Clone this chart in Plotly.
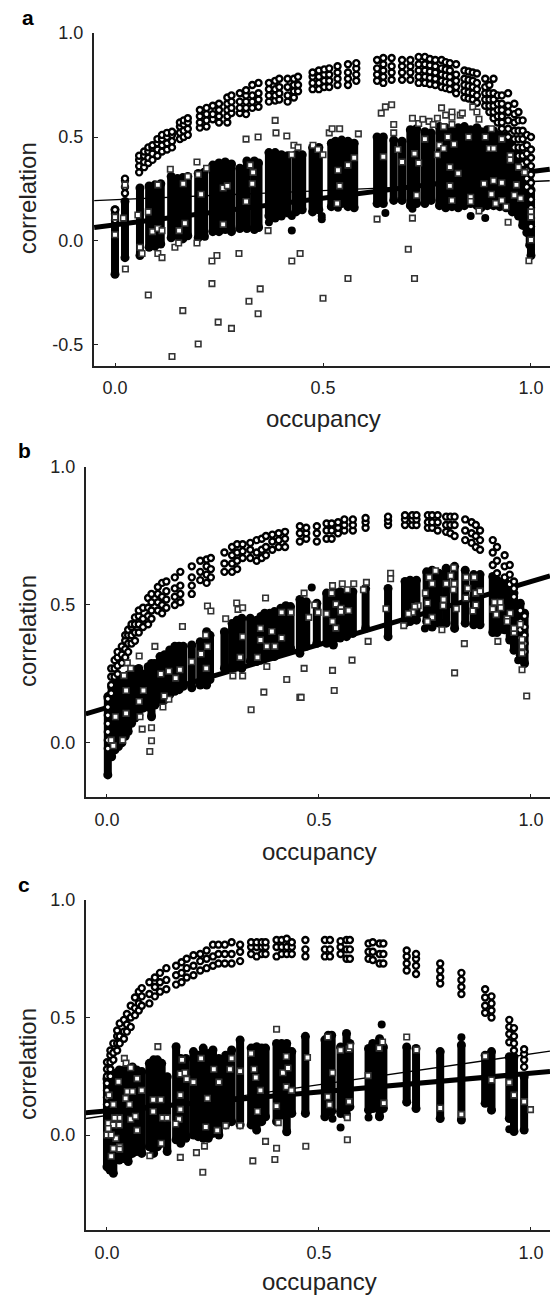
import plotly.graph_objects as go

# ---------- panel a ----------
# occupancy, low, high of each dense filled column
cols_a = [(.00,-.16,.15),(.024,-.08,.19),(.06,-.07,.255),(.082,-.03,.265),(.096,-.025,.27),(.11,-.015,.275),
(.135,.015,.31),(.15,.025,.30),(.163,.01,.305),(.175,.025,.31),(.20,.015,.325),(.214,.025,.33),(.235,.045,.365),
(.25,.045,.375),(.265,.055,.38),(.28,.045,.37),(.30,.06,.35),(.317,.06,.385),(.335,.055,.385),(.345,.065,.375),
(.37,.12,.425),(.385,.11,.425),(.40,.12,.415),(.415,.135,.41),(.435,.14,.415),(.45,.15,.415),(.475,.14,.45),
(.49,.15,.45),(.52,.165,.47),(.53,.175,.48),(.545,.18,.485),(.56,.165,.48),(.575,.16,.47),(.63,.18,.50),
(.645,.18,.50),(.67,.195,.485),(.69,.195,.48),(.71,.17,.535),(.725,.18,.54),(.745,.18,.525),(.76,.195,.52),
(.78,.17,.55),(.795,.16,.545),(.81,.165,.54),(.825,.16,.545),(.84,.17,.55),(.855,.18,.535),(.87,.17,.545),
(.88,.16,.525),(.895,.17,.535),(.91,.17,.53),(.925,.165,.51),(.94,.16,.505),(.955,.14,.485),(.97,.12,.44),
(.98,.075,.39),(.99,.04,.34),(.997,-.02,.29),(1.0,-.07,.245)]
dots_a = [(.216,.02),(.28,.05),(.345,.065),(.37,.09),(.425,.05),(.425,.12),(.497,.105),(.65,.135),(.715,.155),
(.855,.12),(.89,.11),(1.0,.005),(1.0,-.06),(.497,.12),(.536,.16)]
arc_a_x = [.00,.024,.058,.07,.08,.09,.102,.113,.125,.137,.156,.165,.175,.204,.22,.235,.25,.27,.28,.30,.315,.33,.345,.37,.385,.395,.415,.43,.44,
.475,.49,.503,.515,.535,.56,.58,.63,.645,.665,.69,.71,.73,.745,.757,.77,.785,.795,.805,.82,.84,.85,.86,.87,.89,.90,.91,.92,.93,.945,.96,.97,.98,.99,1.0]
arc_a_y = [[.10,.13,.15],[.23,.26,.29,.30],[.33,.36,.39,.41],[.355,.38,.41,.43],[.375,.40,.43,.45],[.39,.42,.45,.46],[.41,.44,.47,.49],[.43,.46,.49,.51],[.44,.47,.50,.52],
[.45,.48,.51,.525],[.49,.52,.55,.57],[.50,.53,.56,.58],[.51,.54,.57,.59],[.545,.57,.60,.63],[.55,.58,.61,.64],[.585,.61,.65],[.57,.60,.63,.66],
[.57,.60,.63,.66,.69],[.615,.64,.67,.70],[.615,.64,.67,.71],[.61,.64,.67,.70,.725],[.64,.67,.70,.75],[.645,.68,.71,.76],
[.67,.70,.73,.76],[.675,.70,.73,.77],[.68,.71,.74,.78],[.67,.70,.74,.78],[.69,.72,.75,.78],[.72,.75,.79],[.73,.76,.79,.81],[.73,.76,.79,.82],[.74,.77,.80,.825],
[.74,.77,.80,.83],[.75,.78,.81,.84],[.75,.78,.81,.85],[.77,.80,.83,.855],[.77,.80,.83,.87],[.76,.79,.82,.85,.88],
[.775,.81,.84,.88],[.775,.81,.84,.87],[.775,.81,.84,.87],[.76,.79,.82,.85,.885],[.76,.79,.82,.85,.885],[.755,.785,.815,.845,.875],[.75,.78,.81,.84,.87],
[.74,.77,.80,.83,.87],[.735,.765,.795,.825,.86],[.73,.76,.79,.82,.855],[.71,.74,.77,.80,.85],[.69,.72,.75,.78,.82],[.685,.715,.745,.775,.815],[.68,.71,.74,.77,.81],
[.665,.70,.73,.76,.805],[.65,.68,.71,.74,.78],[.62,.65,.68,.71,.75],[.59,.62,.65,.68,.71,.78],[.57,.60,.63,.66,.70],
[.54,.57,.60,.63,.66,.70],[.50,.54,.58,.62,.65,.71],[.45,.49,.53,.57,.61,.66],[.41,.45,.49,.53,.58,.62],
[.33,.37,.41,.45,.49,.53,.58],[.26,.30,.34,.38,.42,.46,.51],[.07,.11,.16,.20,.24,.28,.32,.36,.40,.44,.50]]
squares_a = [(.025,-.135),(0,.115),(0,.03),(.02,.11),(.024,.27),(.065,-.06),(.06,-.03),(.055,.125),(.08,-.26),(.103,-.06),
(.113,-.08),(.08,.14),(.09,.045),(.103,.06),(.113,.05),(.103,.27),(.133,.345),(.163,-.335),(.144,-.03),(.153,-.01),(.197,-.01),
(.168,.085),(.154,.05),(.164,.275),(.175,.31),(.20,.32),(.197,.38),(.22,.35),(.207,.225),(.137,-.555),(.20,-.495),(.248,-.39),
(.28,-.42),(.233,-.205),(.344,-.35),(.322,-.29),(.349,-.23),(.233,-.096),(.245,-.07),(.298,-.06),(.26,.08),(.26,.255),(.27,.265),
(.315,.19),(.33,.275),(.332,.33),(.325,.365),(.368,.05),(.425,-.096),(.445,-.06),(.50,-.275),(.315,.49),(.344,.50),(.387,.52),
(.413,.505),(.43,.46),(.44,.45),(.425,.415),(.476,.46),(.488,.44),(.50,.415),(.515,.52),(.385,.58),(.522,.54),(.54,.54),(.585,.515),
(.536,.34),(.54,.265),(.534,.18),(.56,.365),(.575,.40),(.63,.105),(.705,-.04),(.715,.11),(.72,-.18),(.56,-.18),(.645,.405),(.68,.44),
(.69,.38),(.72,.42),(.73,.375),(.725,.22),(.64,.615),(.65,.645),(.665,.655),(.67,.56),(.67,.52),(.715,.59),(.73,.565),(.74,.585),
(.755,.575),(.765,.56),(.775,.59),(.785,.64),(.795,.605),(.81,.62),(.81,.595),(.79,.55),(.81,.56),(.83,.605),(.835,.615),(.86,.645),
(.87,.62),(.875,.585),(.905,.54),(.89,.50),(.745,.49),(.80,.50),(.78,.46),(.79,.445),(.775,.415),(.815,.465),(.85,.50),(.90,.445),
(.91,.445),(.93,.49),(.805,.355),(.825,.325),(.805,.265),(.887,.275),(.91,.29),(.93,.28),(.905,.225),(.81,.195),(.855,.21),(.855,.19),
(.875,.145),(.915,.18),(.93,.195),(.94,.165),(.945,.09),(.96,.22),(.975,.205),(.97,.355),(.95,.41),(.95,.39),(.995,-.095),(1.0,.005),
(1.0,.14),(1.0,.115),(.985,.33),(.965,.27)]
lines_a = [([-.05,1.045],[.065,.345],5),([-.05,1.045],[.194,.29],1.4)]

# ---------- panel b ----------
cols_b = [(.002,-.116,.168),(.011,-.05,.204),(.019,-.025,.216),(.027,-.013,.222),(.035,0,.228),(.043,.024,.24),(.05,.041,.246),
(.058,.071,.258),(.066,.09,.265),(.075,.10,.27),(.085,.126,.25),(.097,.13,.276),(.105,.095,.288),(.113,.137,.288),(.125,.15,.313),
(.136,.156,.32),(.148,.175,.337),(.16,.187,.35),(.17,.193,.35),(.18,.205,.35),(.20,.20,.355),(.22,.21,.367),(.235,.21,.403),(.243,.23,.39),
(.277,.27,.403),(.295,.276,.433),(.307,.283,.445),(.318,.27,.452),(.338,.295,.452),(.353,.295,.445),(.363,.30,.458),(.372,.307,.47),
(.384,.313,.47),(.395,.313,.476),(.41,.33,.488),(.422,.337,.497),(.433,.343,.494),(.455,.325,.52),(.47,.35,.512),(.495,.361,.506),
(.518,.361,.543),(.534,.355,.548),(.55,.38,.548),(.565,.385,.548),(.58,.397,.548),(.61,.415,.56),(.663,.385,.56),(.703,.434,.585),
(.715,.44,.59),(.73,.445,.59),(.754,.44,.62),(.767,.42,.626),(.783,.434,.615),(.80,.434,.633),(.82,.415,.64),(.845,.434,.626),
(.865,.428,.61),(.88,.428,.61),(.91,.40,.603),(.92,.40,.59),(.938,.41,.59),(.95,.373,.555),(.96,.336,.543),(.975,.318,.506),(.985,.288,.47)]
dots_b = [(.105,.10),(.483,.563),(.75,.415),(.795,.435),(.93,.41),(.97,.30)]
arc_b_x = [.002,.01,.018,.025,.035,.043,.05,.058,.066,.075,.085,.097,.105,.12,.13,.14,.16,.173,.20,.22,.235,.245,.277,.295,.307,.32,.338,.353,
.365,.375,.39,.405,.42,.455,.47,.495,.518,.53,.545,.56,.58,.61,.663,.703,.72,.73,.757,.767,.78,.80,.81,.82,.845,.86,.87,.88,.91,.92,.938,.95,.96,.975,.985]
arc_b_y = [[-.02,.01,.04,.07,.10,.13,.16],[.18,.21,.24,.27],[.24,.27,.30],[.25,.28,.31,.33],[.29,.32,.35],[.31,.34,.37,.39],[.33,.36,.39,.41],
[.36,.39,.42,.43],[.37,.40,.43,.455],[.40,.43,.46,.48],[.42,.45,.49],[.43,.46,.49,.525],[.45,.48,.51,.54],[.48,.51,.54,.565],[.47,.50,.53,.58],
[.49,.52,.55,.585],[.50,.53,.56,.60],[.51,.54,.57,.62],[.54,.57,.60,.64],[.59,.62,.66],[.58,.61,.64,.665],[.60,.63,.67],[.62,.65,.69],[.62,.65,.68,.71],
[.63,.66,.69,.72],[.67,.695,.72],[.67,.70,.725],[.66,.69,.735],[.67,.70,.74],[.68,.71,.75],[.70,.73,.755],[.71,.735,.76],[.71,.74,.765],[.73,.76,.785],[.74,.76,.78],
[.73,.76,.785],[.74,.77,.795],[.74,.77,.795],[.76,.78,.80],[.77,.79,.81],[.77,.79,.81],[.78,.80,.815],[.79,.805,.82],[.79,.81,.825],[.79,.81,.825],[.79,.81,.825],[.78,.80,.825],[.78,.80,.825],
[.77,.80,.825],[.765,.79,.82],[.76,.79,.82],[.75,.79,.82],[.735,.77,.81],[.725,.76,.80],[.71,.75,.79],[.70,.735,.77],[.645,.69,.735],[.615,.66,.71],[.60,.64,.68],
[.575,.61,.645],[.53,.56,.585],[.38,.41,.44,.48],[.33,.36,.39,.42,.46]]
squares_b = [(.101,-.031),(.105,.008),(.105,.055),(.083,.05),(.076,.315),(.113,.35),(.178,.422),(.237,.496),(.245,.478),(.28,.45),(.306,.507),
(.309,.484),(.32,.49),(.374,.525),(.048,.29),(.056,.27),(.04,.244),(.132,.13),(.146,.158),(.135,.17),(.297,.243),(.32,.243),(.377,.277),(.424,.23),
(.37,.184),(.34,.12),(.455,.165),(.045,.19),(.045,.107),(.02,.095),(.037,.01),(.015,-.01),(.01,.01),(.076,.15),(.078,.095),(.086,.19),(.127,.25),
(.146,.26),(.162,.235),(.172,.265),(.20,.294),(.222,.322),(.237,.35),(.233,.39),(.234,.27),(.32,.385),(.314,.31),(.355,.31),(.362,.415),(.362,.373),
(.389,.404),(.377,.35),(.396,.35),(.412,.38),(.412,.473),(.434,.473),(.465,.543),(.458,.165),(.465,.27),(.532,.263),(.536,.19),(.578,.30),(.616,.368),
(.49,.50),(.476,.455),(.498,.473),(.532,.57),(.555,.577),(.582,.577),(.612,.582),(.53,.543),(.567,.555),(.605,.555),(.54,.503),(.552,.488),(.552,.475),
(.57,.48),(.518,.468),(.532,.44),(.54,.416),(.669,.615),(.669,.595),(.658,.486),(.70,.425),(.79,.41),(.843,.36),(.82,.254),(.922,.368),(.979,.265),
(.99,.17),(.775,.624),(.76,.60),(.818,.635),(.811,.606),(.767,.577),(.80,.577),(.819,.577),(.847,.60),(.866,.60),(.751,.543),(.817,.555),(.851,.56),
(.87,.543),(.88,.55),(.794,.52),(.756,.507),(.793,.497),(.847,.525),(.87,.50),(.734,.497),(.726,.494),(.721,.473),(.711,.468),(.824,.486),(.863,.478),
(.767,.455),(.756,.44),(.914,.51),(.928,.51),(.91,.485),(.929,.49),(.918,.465),(.951,.47),(.944,.45),(.944,.44),(.96,.40),(.96,.415),(.979,.375),
(.979,.35),(.979,.325),(.975,.43)]
lines_b = [([-.05,1.045],[.105,.605],5)]

# ---------- panel c ----------
cols_c = [(0,-.135,.24),(.007,-.149,.248),(.015,-.163,.263),(.029,-.106,.277),(.04,-.10,.277),(.05,-.113,.277),(.06,-.078,.29),(.07,-.07,.277),
(.082,-.078,.27),(.10,-.05,.305),(.11,-.078,.32),(.119,-.05,.32),(.129,-.035,.305),(.142,-.07,.248),(.163,-.02,.376),(.174,-.035,.326),(.186,-.014,.326),
(.204,0,.355),(.215,-.007,.34),(.227,-.014,.37),(.239,-.014,.347),(.25,.007,.362),(.264,0,.326),(.28,.043,.34),(.294,.057,.362),(.314,.043,.404),
(.34,.043,.37),(.353,.021,.376),(.365,.057,.37),(.374,.078,.37),(.40,.057,.39),(.412,.085,.39),(.424,.014,.39),(.436,.092,.355),(.468,.092,.42),
(.514,.078,.405),(.522,.10,.425),(.53,.10,.425),(.551,.10,.375),(.565,.085,.432),(.573,.12,.39),(.617,.106,.368),(.627,.113,.39),(.643,.078,.41),
(.652,.113,.375),(.707,.14,.375),(.729,.113,.368),(.786,.07,.355),(.836,.064,.383),(.892,.135,.34),(.907,.106,.355),(.949,.07,.333),(.96,.015,.333),(.984,.021,.248)]
dots_c = [(.648,.47),(.836,.416),(.532,.069),(.551,.09),(.551,.032),(.617,.075),(.642,.08),(.517,.09),(.949,.025),(.424,.014),(.314,.404)]
arc_c_x = [0,.008,.015,.024,.03,.04,.047,.056,.066,.075,.082,.10,.113,.125,.14,.163,.176,.188,.204,.22,.235,.25,.263,.278,.294,.314,.34,.353,.365,.374,
.40,.412,.424,.436,.468,.514,.526,.551,.565,.573,.617,.627,.643,.652,.707,.729,.786,.836,.892,.907,.949,.96,.984]
arc_c_y = [[.13,.16,.19,.22,.25,.28,.31],[.25,.28,.31,.34,.36],[.32,.35,.39],[.36,.39,.42,.445],[.39,.42,.475],[.41,.44,.49],[.44,.47,.515],[.46,.50,.55],
[.51,.54,.585],[.53,.56,.61],[.55,.59,.625],[.56,.60,.65],[.59,.63,.67],[.61,.65,.69],[.62,.66,.71],[.64,.68,.72],[.65,.69,.735],[.67,.71,.75],[.68,.72,.765],
[.70,.74,.77],[.71,.75,.785],[.72,.76,.81],[.73,.77,.81],[.73,.77,.81],[.73,.77,.82],[.74,.78,.81],[.77,.80,.82],[.76,.80,.82],[.77,.80,.82],[.77,.80,.82],
[.76,.80,.83],[.77,.80,.83],[.77,.80,.835],[.77,.80,.82],[.76,.79,.83],[.76,.79,.83],[.76,.79,.83],[.77,.80,.825],[.75,.79,.83],[.75,.79,.83],[.75,.78,.815],
[.745,.78,.82],[.73,.77,.815],[.73,.77,.815],[.70,.73,.76,.785],[.685,.72,.75,.77],[.645,.67,.70,.73],[.60,.63,.66,.69],[.52,.55,.585,.62],[.50,.53,.56,.59],
[.395,.43,.46,.49],[.36,.39,.42,.455],[.29,.32,.345,.365]]
squares_c = [(0,0),(.12,.376),(.041,.326),(.045,.306),(.056,.286),(.40,.45),(.101,-.088),(.128,-.035),(.173,-.095),(.211,-.075),(.23,-.047),(.226,-.158),
(.344,-.11),(.374,-.027),(.40,-.056),(.396,-.104),(.404,.053),(.314,.04),(.28,.04),(.26,.02),(.233,.034),(.005,.17),(.015,.13),(.029,.073),(.018,.073),
(.021,-.014),(.01,-.09),(.03,-.05),(.03,-.06),(.003,.05),(.015,.043),(.029,.043),(.003,.028),(.01,0),(.015,-.057),(.027,.227),(.048,.185),(.06,.185),
(.044,.156),(.053,.13),(.056,.067),(.067,.08),(.071,.02),(.071,.24),(.082,.19),(.109,.15),(.127,.15),(.109,.10),(.131,.073),(.142,.073),(.177,.32),
(.173,.26),(.184,.265),(.188,.238),(.173,.17),(.173,.109),(.17,.067),(.162,.047),(.222,.326),(.204,.225),(.237,.156),(.252,.28),(.264,.225),(.294,.326),
(.29,.28),(.314,.272),(.34,.347),(.347,.28),(.351,.245),(.362,.19),(.355,.10),(.40,.123),(.415,.265),(.423,.334),(.427,.285),(.423,.205),(.435,.19),
(.469,-.048),(.473,.33),(.521,.417),(.532,.265),(.521,.163),(.525,.129),(.551,.361),(.571,.366),(.574,.378),(.571,.142),(.567,.074),(.567,-.02),(.616,.253),
(.642,.37),(.65,.396),(.653,.136),(.707,.417),(.73,.362),(.786,.115),(.836,.088),(.892,.335),(.907,.234),(.949,.224),(.96,.17),(.984,.142),(.999,.108)]
lines_c = [([-.05,1.045],[.095,.27],5),([-.05,1.045],[.07,.357],1.4)]

tick_y_a = [-.5,0,.5,1]
tick_y_b = [0,.5,1]
tick_y_c = [0,.5,1]
tick_x = [0,.5,1]
panel_letters = ["a","b","c"]
x_title = "occupancy"
y_title = "correlation"

W, H = 550, 1296
AX = "#222222"
FONT = "Liberation Sans, Arial, sans-serif"
panels = [
    dict(cols=cols_a,dots=dots_a,arc_x=arc_a_x,arc_y=arc_a_y,sq=squares_a,lines=lines_a,ticks=tick_y_a,
         left=94,top=33,bottom=365.5,xr=[-.0505,1.0457],yr=[-.5986,1],lx=28,ly=17,tx=323,ty=419),
    dict(cols=cols_b,dots=dots_b,arc_x=arc_b_x,arc_y=arc_b_y,sq=squares_b,lines=lines_b,ticks=tick_y_b,
         left=86,top=467,bottom=797,xr=[-.0495,1.045],yr=[-.196,1],lx=24,ly=450,tx=319,ty=851),
    dict(cols=cols_c,dots=dots_c,arc_x=arc_c_x,arc_y=arc_c_y,sq=squares_c,lines=lines_c,ticks=tick_y_c,
         left=86,top=900,bottom=1230,xr=[-.0495,1.045],yr=[-.404,1],lx=24,ly=884,tx=319,ty=1281),
]

fig = go.Figure()
layout = dict(width=W,height=H,margin=dict(l=0,r=0,t=0,b=0,pad=0),showlegend=False,
              paper_bgcolor="white",plot_bgcolor="white",font=dict(family=FONT,color="#222"))
ann = []
for i,p in enumerate(panels):
    n = "" if i==0 else str(i+1)
    xa, ya = "x"+n, "y"+n
    cx, cy = [], []
    for x,lo,hi in p["cols"]:
        cx += [x,x,None]; cy += [lo,hi,None]
    fig.add_trace(go.Scatter(x=cx,y=cy,mode="lines+markers",xaxis=xa,yaxis=ya,cliponaxis=False,
        line=dict(color="black",width=8),marker=dict(color="black",size=9)))
    fig.add_trace(go.Scatter(x=[d[0] for d in p["dots"]],y=[d[1] for d in p["dots"]],mode="markers",xaxis=xa,yaxis=ya,
        marker=dict(color="black",size=8)))
    for lx,ly,w in p["lines"]:
        fig.add_trace(go.Scatter(x=lx,y=ly,mode="lines",xaxis=xa,yaxis=ya,line=dict(color="black",width=w)))
    ax, ay = [], []
    for x,ys in zip(p["arc_x"],p["arc_y"]):
        for y in ys:
            ax.append(x); ay.append(y)
    fig.add_trace(go.Scatter(x=ax,y=ay,mode="markers",xaxis=xa,yaxis=ya,
        marker=dict(color="white",size=6,line=dict(color="black",width=2.4))))
    fig.add_trace(go.Scatter(x=[s[0] for s in p["sq"]],y=[s[1] for s in p["sq"]],mode="markers",xaxis=xa,yaxis=ya,
        marker=dict(symbol="square",color="white",size=5.5,line=dict(color="#333333",width=1.6))))
    layout["xaxis"+n] = dict(domain=[p["left"]/W,1],range=p["xr"],anchor=ya,tickvals=tick_x,ticktext=["0.0","0.5","1.0"],automargin=False,
        ticks="inside",ticklen=3,tickwidth=1,tickcolor=AX,showline=True,linecolor=AX,linewidth=2,showgrid=False,zeroline=False,
        tickfont=dict(size=18,family=FONT,color="#222"),ticklabelstandoff=5)
    layout["yaxis"+n] = dict(domain=[1-p["bottom"]/H,1-p["top"]/H],range=p["yr"],anchor=xa,tickvals=p["ticks"],automargin=False,
        ticktext=[f"{v:.1f}" for v in p["ticks"]],ticks="inside",ticklen=4,tickwidth=1,tickcolor=AX,
        showline=True,linecolor=AX,linewidth=2,showgrid=False,zeroline=False,
        tickfont=dict(size=18,family=FONT,color="#222"),ticklabelstandoff=5)
    ann.append(dict(text="<b>%s</b>"%panel_letters[i],x=p["lx"]/W,y=1-p["ly"]/H,xref="paper",yref="paper",showarrow=False,
        xanchor="center",yanchor="middle",font=dict(size=21,family=FONT,color="black")))
    ann.append(dict(text=x_title,x=p["tx"]/W,y=1-p["ty"]/H,xref="paper",yref="paper",showarrow=False,
        xanchor="center",yanchor="middle",font=dict(size=24,family=FONT,color="#222")))
    ann.append(dict(text=y_title,x=27/W,y=1-((p["top"]+p["bottom"])/2-1)/H,xref="paper",yref="paper",showarrow=False,textangle=-90,
        xanchor="center",yanchor="middle",font=dict(size=24,family=FONT,color="#222")))
layout["annotations"] = ann
fig.update_layout(**layout)
fig.write_html("out.html",post_script="document.body.style.margin='0';",config=dict(displayModeBar=False))
